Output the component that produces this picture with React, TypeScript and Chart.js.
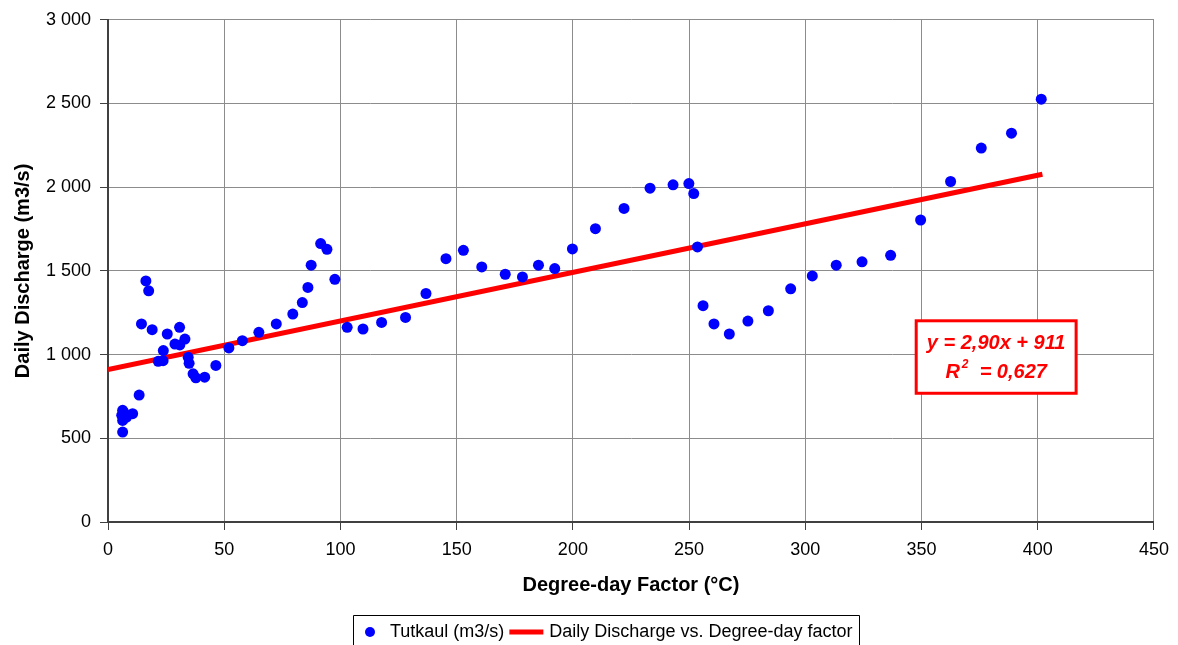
import React, { useEffect, useRef } from "react";
import { Chart, registerables } from "chart.js";

Chart.register(...registerables);

// ---- Data ----
const degreeDays: number[] = [
  6.3, 5.9, 6.3, 8.0, 10.6, 6.3, 6.8, 13.4, 14.4, 16.3, 17.5, 19.0, 21.6, 23.7,
  23.8, 25.5, 28.8, 30.9, 30.8, 33.1, 34.5, 34.9, 36.6, 37.8, 41.6, 46.4, 52.0,
  57.8, 64.9, 72.4, 79.5, 83.6, 86.0, 87.4, 91.5, 94.2, 97.6, 102.9, 109.7,
  117.7, 128.0, 136.8, 145.4, 152.9, 160.8, 170.9, 178.3, 185.2, 192.2, 199.8,
  209.7, 222.0, 233.2, 243.1, 249.9, 252.0, 253.6, 256.0, 260.7, 267.3, 275.3,
  284.1, 293.7, 303.0, 313.3, 324.4, 336.7, 349.6, 362.5, 375.7, 388.7, 401.5,
];
const discharge: number[] = [
  667, 637, 607, 627, 647, 537, 655, 758, 1183, 1440, 1381, 1149, 960, 964,
  1024, 1123, 1063, 1058, 1163, 1093, 984, 948, 885, 861, 865, 935, 1040,
  1083, 1133, 1183, 1242, 1311, 1401, 1534, 1663, 1629, 1450, 1163, 1153,
  1192, 1222, 1365, 1573, 1623, 1524, 1480, 1464, 1534, 1514, 1631,
  1752, 1873, 1994, 2014, 2022, 1962, 1643, 1292, 1183, 1123, 1200,
  1262, 1393, 1470, 1534, 1554, 1593, 1804, 2034, 2234, 2323, 2526,
];
const trendX: number[] = [0, 402];
const trendY: number[] = [911, 2077];

const seriesLabel = "Tutkaul (m3/s)";
const trendLabel = "Daily Discharge vs. Degree-day factor";
const xTitle = "Degree-day Factor (°C)";
const yTitle = "Daily Discharge (m3/s)";
const equationText = "y = 2,90x + 911";
const r2Text = "0,627";

const xMin = 0, xMax = 450, xStep = 50;
const yMin = 0, yMax = 3000, yStep = 500;

// ---- Styles ----
const FONT = "'Liberation Sans', Arial, sans-serif";
const BLUE = "#0000ff";
const RED = "#ff0000";
const GRID = "#8c8c8c";
const AXIS = "#404040";
// annotation box in data coordinates
const ANNO = { x0: 347.7, x1: 416.5, y0: 1202, y1: 769 };

const fmtThousands = (v: number) =>
  String(v).replace(/\B(?=(\d{3})+(?!\d))/g, " ");

const legendPlugin = {
  id: "boxLegend",
  afterDraw(chart: any) {
    const ctx = chart.ctx as CanvasRenderingContext2D;
    ctx.save();
    ctx.font = `18px ${FONT}`;
    ctx.textBaseline = "middle";
    ctx.textAlign = "left";
    const left = 353.5;
    const top = 615.5;
    const cy = 632;
    const w1 = ctx.measureText(seriesLabel).width;
    const w2 = ctx.measureText(trendLabel).width;
    // marker 1
    ctx.fillStyle = BLUE;
    ctx.beginPath();
    ctx.arc(left + 16.5, cy, 5, 0, Math.PI * 2);
    ctx.fill();
    ctx.fillStyle = "#000";
    const t1 = left + 36.5;
    ctx.fillText(seriesLabel, t1, cy);
    const l0 = t1 + w1 + 5;
    const l1 = l0 + 34;
    ctx.strokeStyle = RED;
    ctx.lineWidth = 5;
    ctx.beginPath();
    ctx.moveTo(l0, cy);
    ctx.lineTo(l1, cy);
    ctx.stroke();
    const t2 = l1 + 6;
    ctx.fillStyle = "#000";
    ctx.fillText(trendLabel, t2, cy);
    const right = Math.round(t2 + w2 + 7) + 0.5;
    ctx.strokeStyle = "#000";
    ctx.lineWidth = 1;
    ctx.beginPath();
    ctx.moveTo(left, 660);
    ctx.lineTo(left, top);
    ctx.lineTo(right, top);
    ctx.lineTo(right, 660);
    ctx.stroke();
    ctx.restore();
  },
};

const annotationPlugin = {
  id: "trendAnnotation",
  afterDatasetsDraw(chart: any) {
    const ctx = chart.ctx as CanvasRenderingContext2D;
    const xs = chart.scales.x;
    const ys = chart.scales.y;
    const x0 = xs.getPixelForValue(ANNO.x0);
    const x1 = xs.getPixelForValue(ANNO.x1);
    const y0 = ys.getPixelForValue(ANNO.y0);
    const y1 = ys.getPixelForValue(ANNO.y1);
    ctx.save();
    ctx.fillStyle = "#fff";
    ctx.fillRect(x0, y0, x1 - x0, y1 - y0);
    ctx.strokeStyle = RED;
    ctx.lineWidth = 3;
    ctx.strokeRect(x0, y0, x1 - x0, y1 - y0);
    const cx = (x0 + x1) / 2;
    ctx.fillStyle = RED;
    ctx.textBaseline = "middle";
    ctx.textAlign = "center";
    ctx.font = `italic bold 20px ${FONT}`;
    ctx.fillText(equationText, cx, y0 + 23);
    // second line: R² = value
    const bigFont = `italic bold 20px ${FONT}`;
    const supFont = `italic bold 12px ${FONT}`;
    const partR = "R";
    const partRest = "  = " + r2Text;
    ctx.font = bigFont;
    const wR = ctx.measureText(partR).width;
    const wRest = ctx.measureText(partRest).width;
    ctx.font = supFont;
    const wSup = ctx.measureText("2").width + 2;
    const total = wR + wSup + wRest;
    let x = cx - total / 2;
    const ly = y0 + 52;
    ctx.textAlign = "left";
    ctx.font = bigFont;
    ctx.fillText(partR, x, ly);
    x += wR + 2;
    ctx.font = supFont;
    ctx.fillText("2", x, ly - 8);
    x += wSup - 2;
    ctx.font = bigFont;
    ctx.fillText(partRest, x, ly);
    ctx.restore();
  },
};

export default function App() {
  const canvasRef = useRef<HTMLCanvasElement | null>(null);

  useEffect(() => {
    const canvas = canvasRef.current;
    if (!canvas) return;
    const points = degreeDays.map((x, i) => ({ x, y: discharge[i] }));
    const trend = trendX.map((x, i) => ({ x, y: trendY[i] }));

    const chart = new Chart(canvas, {
      type: "scatter",
      data: {
        datasets: [
          {
            label: seriesLabel,
            data: points,
            backgroundColor: BLUE,
            borderColor: BLUE,
            pointRadius: 5.5,
            pointBorderWidth: 0,
            showLine: false,
          } as any,
          {
            type: "line",
            label: trendLabel,
            data: trend,
            borderColor: RED,
            backgroundColor: RED,
            borderWidth: 5,
            pointRadius: 0,
            fill: false,
            borderCapStyle: "butt",
          } as any,
        ],
      },
      options: {
        animation: false,
        responsive: false,
        devicePixelRatio: 1,
        layout: { padding: { left: 0, top: 17, right: 23, bottom: 43 } },
        plugins: {
          legend: { display: false },
          tooltip: { enabled: false },
        },
        scales: {
          x: {
            type: "linear",
            position: "bottom",
            min: xMin,
            max: xMax,
            afterFit: (s: any) => {
              s.height = 80;
            },
            ticks: {
              stepSize: xStep,
              color: "#000",
              font: { family: FONT, size: 18 },
              padding: 9,
              maxRotation: 0,
            },
            grid: {
              color: GRID,
              lineWidth: 1,
              tickLength: 8,
              tickColor: AXIS,
            },
            border: { color: AXIS, width: 2 },
            title: {
              display: true,
              text: xTitle,
              color: "#000",
              font: { family: FONT, size: 20, weight: "bold" },
              padding: { top: 0, bottom: 5 },
            },
          },
          y: {
            type: "linear",
            min: yMin,
            max: yMax,
            afterFit: (s: any) => {
              s.width = 108;
            },
            ticks: {
              stepSize: yStep,
              color: "#000",
              font: { family: FONT, size: 18 },
              padding: 9,
              callback: (v: any) => fmtThousands(Number(v)),
            },
            grid: {
              color: GRID,
              lineWidth: 1,
              tickLength: 8,
              tickColor: AXIS,
            },
            border: { color: AXIS, width: 2 },
            title: {
              display: true,
              text: yTitle,
              color: "#000",
              font: { family: FONT, size: 20, weight: "bold" },
              padding: { top: 11, bottom: 0 },
            },
          },
        },
      } as any,
      plugins: [annotationPlugin, legendPlugin],
    });

    return () => chart.destroy();
  }, []);

  return (
    <div
      style={{
        position: "absolute",
        left: 0,
        top: 0,
        width: 1178,
        height: 645,
        background: "#fff",
      }}
    >
      <canvas
        ref={canvasRef}
        width={1178}
        height={645}
        style={{ width: 1178, height: 645, display: "block" }}
      />
    </div>
  );
}
